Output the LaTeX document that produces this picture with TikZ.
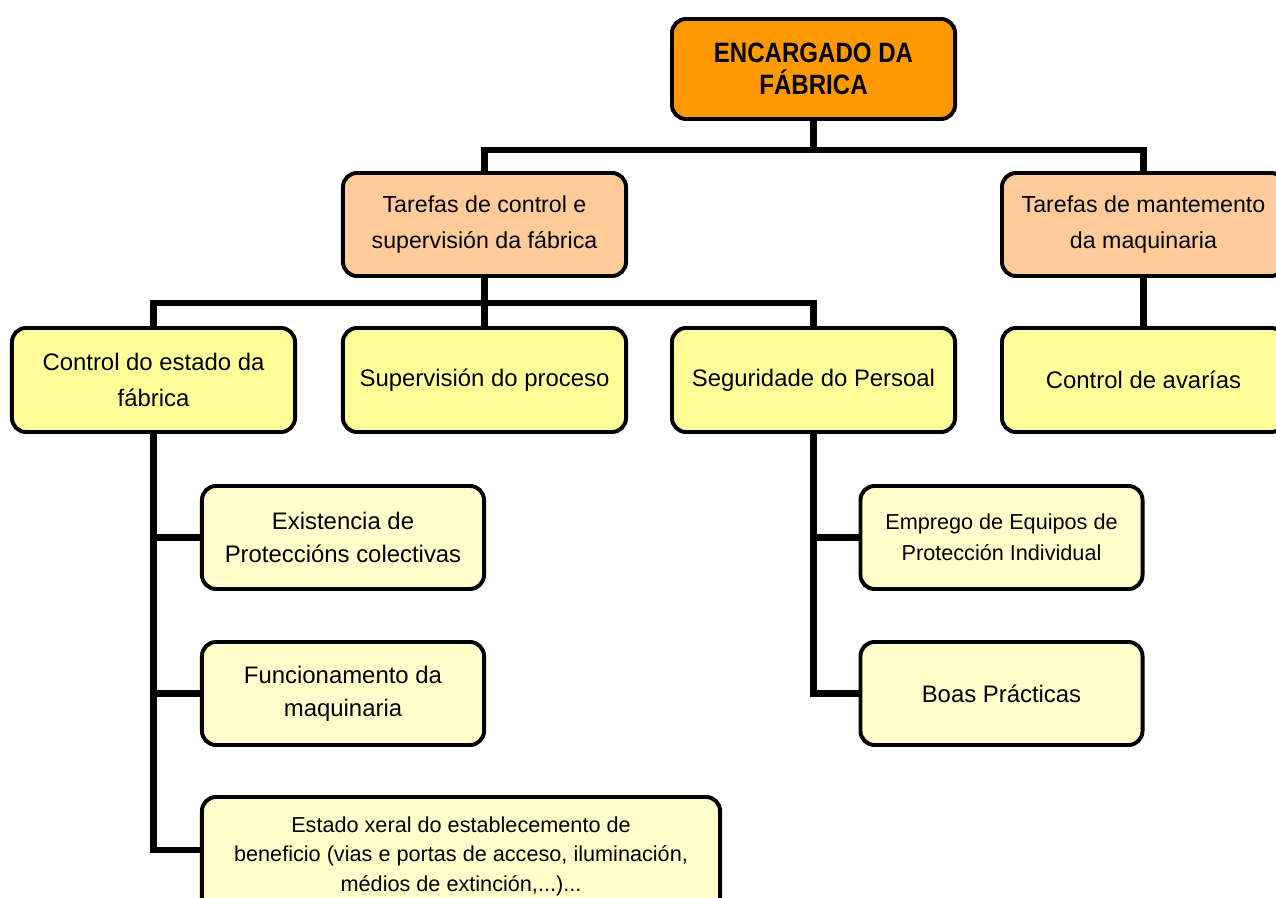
\documentclass[tikz,border=0pt]{standalone}
\usepackage{fontspec}
\setmainfont{Liberation Sans}
\newfontfamily\xefefont[FakeStretch=0.86]{Liberation Sans}
\usepackage{tikz}
\definecolor{laranxa}{HTML}{FF9900}
\definecolor{pexego}{HTML}{FFCC99}
\definecolor{amarelo}{HTML}{FFFF99}
\definecolor{crema}{HTML}{FFFFCC}
\tikzstyle{caixa} = [rectangle, draw=black, line width=2.8pt, rounded corners=10pt, align=center, inner sep=0pt, text=black]
\tikzstyle{xefe} = [caixa, fill=laranxa, minimum width=7.075cm, minimum height=2.5cm, font=\xefefont\bfseries\fontsize{19.9}{22.8}\selectfont]
\tikzstyle{tarefa} = [caixa, fill=pexego, minimum width=7.075cm, minimum height=2.575cm, font=\fontsize{16.5}{25}\selectfont]
\tikzstyle{area} = [caixa, fill=amarelo, minimum width=7.075cm, minimum height=2.6cm, font=\fontsize{17}{25}\selectfont]
\tikzstyle{accion} = [caixa, fill=crema, minimum width=7.05cm, minimum height=2.575cm, font=\fontsize{17}{23.5}\selectfont]
\tikzstyle{enlace} = [-, line width=4.3pt]

\begin{document}
\begin{tikzpicture}[x=0.025cm, y=-0.025cm]
\useasboundingbox (0,0) rectangle (1276,898);
\node [xefe] (encargado) at (813.5, 69) {ENCARGADO DA\\FÁBRICA};
\node [tarefa] (control) at (484.5, 224.5) {Tarefas de control e\\supervisión da fábrica};
\node [tarefa] (mantemento) at (1143.5, 224.5) {Tarefas de mantemento\\da maquinaria};
\node [area] (estado) at (153.5, 380) {Control do estado da\\fábrica};
\node [area] (proceso) at (484.5, 380) {Supervisión do proceso};
\node [area] (persoal) at (813.5, 380) {Seguridade do Persoal};
\node [area] (avarias) at (1143.5, 380) {Control de avarías};
\node [accion] (proteccions) at (343, 537.5) {Existencia de\\Proteccións colectivas};
\node [accion] (funcionamento) at (343, 693.5) {Funcionamento da\\maquinaria};
\node [accion, minimum width=12.95cm, minimum height=2.95cm, font=\fontsize{15.4}{21}\selectfont] (xeral) at (461, 856) {Estado xeral do establecemento de\\beneficio (vias e portas de acceso, iluminación,\\médios de extinción,...)...};
\node [accion, font=\fontsize{15.4}{22}\selectfont] (epi) at (1001.5, 537.5) {Emprego de Equipos de\\Protección Individual};
\node [accion] (practicas) at (1001.5, 693.5) {Boas Prácticas};
% conexions
\draw [enlace] (encargado.south) -- ++(0,29) -| (control.north);
\draw [enlace] (encargado.south) -- ++(0,29) -| (mantemento.north);
\draw [enlace] (control.south) -- ++(0,25) -| (estado.north);
\draw [enlace] (control.south) -- (proceso.north);
\draw [enlace] (control.south) -- ++(0,25) -| (persoal.north);
\draw [enlace] (mantemento.south) -- (avarias.north);
\draw [enlace] (estado.south) |- (proteccions.west);
\draw [enlace] (estado.south) |- (funcionamento.west);
\draw [enlace] (estado.south) |- ([yshift=0.15cm]xeral.west);
\draw [enlace] (persoal.south) |- (epi.west);
\draw [enlace] (persoal.south) |- (practicas.west);
\end{tikzpicture}
\end{document}
